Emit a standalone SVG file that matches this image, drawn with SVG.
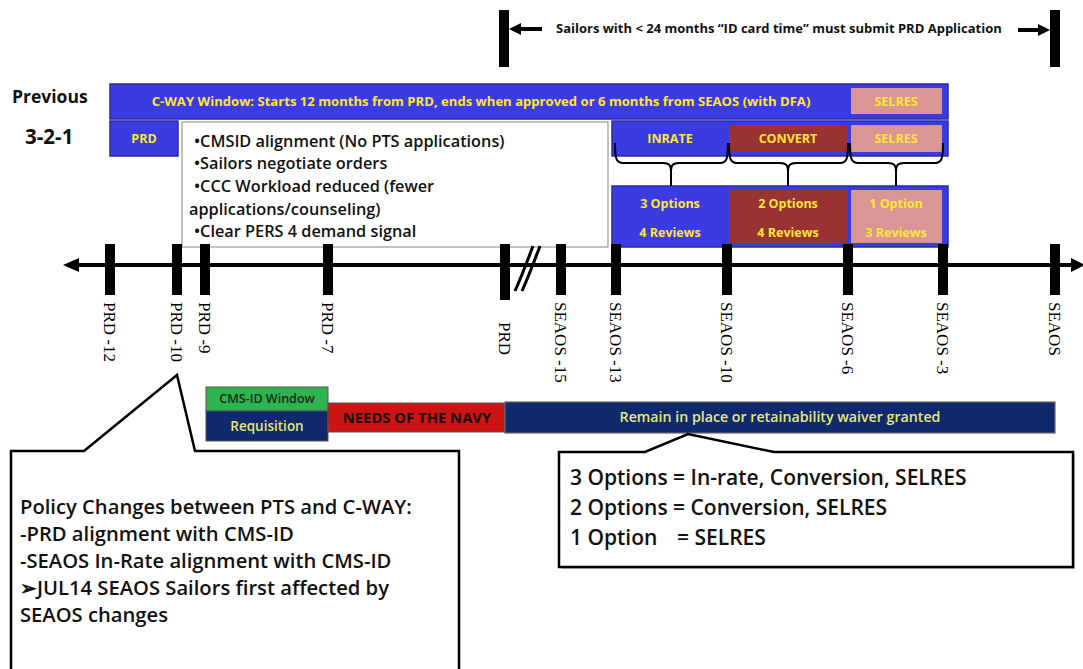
<svg xmlns="http://www.w3.org/2000/svg" width="1083" height="669" viewBox="0 0 1083 669">
<style>
.sans{font-family:"Open Sans","Liberation Sans",sans-serif}
.lbl{font-family:"Open Sans","Liberation Sans",sans-serif;font-weight:700;font-size:12.5px;fill:#ffe633;text-anchor:middle}
.tick{fill:#000}
.tl{font-family:"Liberation Serif","Times New Roman",serif;font-size:17px;fill:#000}
.blue{fill:#3b3be2;stroke:#2a2aa6;stroke-width:1.5}
.red{fill:#993333}
.pink{fill:#d99694}
.brace{fill:none;stroke:#000;stroke-width:2}
.body{font-family:"Open Sans","Liberation Sans",sans-serif;font-weight:600;fill:#111}
</style>
<rect width="1083" height="669" fill="#fff"/>

<g id="header">
  <rect x="499" y="10" width="10" height="57" fill="#000"/>
  <line x1="518" y1="29" x2="542" y2="29" stroke="#000" stroke-width="4"/>
  <polygon points="509,29 521,23 521,35" fill="#000"/>
  <text x="556" y="33" class="sans" font-size="13" font-weight="700" fill="#111">Sailors with &lt; 24 months “ID card time” must submit PRD Application</text>
  <line x1="1018" y1="30" x2="1040" y2="30" stroke="#000" stroke-width="4"/>
  <polygon points="1050,30 1038,24 1038,36" fill="#000"/>
  <rect x="1050" y="10" width="10" height="57" fill="#000"/>
</g>

<g id="row-labels">
  <text x="12" y="103" class="sans" font-size="17.5" font-weight="700" fill="#111">Previous</text>
  <text x="25" y="144" class="sans" font-size="20.5" font-weight="700" fill="#111">3-2-1</text>
</g>

<g id="cway-window">
  <rect x="110" y="84" width="838" height="35" class="blue"/>
  <text x="481" y="106" class="lbl" style="font-size:13.1px">C-WAY Window: Starts 12 months from PRD, ends when approved or 6 months from SEAOS (with DFA)</text>
  <rect x="851" y="88" width="91" height="26" class="pink"/>
  <text x="896" y="106" class="lbl">SELRES</text>
</g>

<g id="prd-box">
  <rect x="110" y="121" width="68" height="35" class="blue"/>
  <text x="144" y="143" class="lbl">PRD</text>
</g>

<g id="notes-box">
  <rect x="182" y="122" width="426" height="125" fill="#fff" stroke="#999" stroke-width="1.2"/>
  <text class="body" font-size="16.3">
    <tspan x="194" y="147">•CMSID alignment (No PTS applications)</tspan>
    <tspan x="194" y="169">•Sailors negotiate orders</tspan>
    <tspan x="194" y="192">•CCC Workload reduced (fewer</tspan>
    <tspan x="189" y="215">applications/counseling)</tspan>
    <tspan x="194" y="237">•Clear PERS 4 demand signal</tspan>
  </text>
</g>

<g id="category-row">
  <rect x="612" y="121" width="336" height="35" class="blue"/>
  <rect x="729" y="125" width="118" height="27" class="red"/>
  <rect x="851" y="125" width="91" height="27" class="pink"/>
  <text x="670" y="143" class="lbl">INRATE</text>
  <text x="788" y="143" class="lbl">CONVERT</text>
  <text x="896" y="143" class="lbl">SELRES</text>
</g>

<g id="options-row">
  <rect x="612" y="186" width="336" height="61" class="blue"/>
  <rect x="729" y="190" width="118" height="53" class="red"/>
  <rect x="851" y="190" width="91" height="53" class="pink"/>
  <text x="670" y="208" class="lbl">3 Options</text>
  <text x="670" y="237" class="lbl">4 Reviews</text>
  <text x="788" y="208" class="lbl">2 Options</text>
  <text x="788" y="237" class="lbl">4 Reviews</text>
  <text x="896" y="208" class="lbl">1 Option</text>
  <text x="896" y="237" class="lbl">3 Reviews</text>
</g>

<g id="connectors">
  <path class="brace" d="M615,143 C615,158 616,163 623,163 L663,163 C669,163 671,165 671,172 L671,186 M671,172 C671,165 673,163 679,163 L720,163 C727,163 728,158 728,143"/>
  <path class="brace" d="M729,143 C729,158 730,163 737,163 L780,163 C786,163 788,165 788,172 L788,186 M788,172 C788,165 790,163 796,163 L840,163 C847,163 848,158 848,143"/>
  <path class="brace" d="M850,143 C850,158 851,163 858,163 L888,163 C894,163 896,165 896,172 L896,186 M896,172 C896,165 898,163 904,163 L935,163 C942,163 943,158 943,143"/>
</g>

<g id="timeline">
  <line x1="74" y1="265" x2="1074" y2="265" stroke="#000" stroke-width="4"/>
  <polygon points="63,265 79,258 79,272" fill="#000"/>
  <polygon points="1085,265 1071,258 1071,272" fill="#000"/>
  <rect x="105" y="244" width="10" height="51" class="tick"/>
  <rect x="172" y="244" width="10" height="51" class="tick"/>
  <rect x="200" y="244" width="10" height="51" class="tick"/>
  <rect x="323" y="244" width="10" height="51" class="tick"/>
  <rect x="500" y="244" width="10" height="56" class="tick"/>
  <rect x="556" y="244" width="10" height="51" class="tick"/>
  <rect x="611" y="244" width="10" height="51" class="tick"/>
  <rect x="722" y="244" width="10" height="51" class="tick"/>
  <rect x="843" y="244" width="10" height="51" class="tick"/>
  <rect x="938" y="244" width="10" height="51" class="tick"/>
  <rect x="1050" y="244" width="10" height="51" class="tick"/>
  <path d="M515,291 C520,280 527,262 533,246 M522,291 C527,280 534,262 540,246" fill="none" stroke="#000" stroke-width="3"/>
  <text class="tl" transform="translate(104,302) rotate(90)">PRD -12</text>
  <text class="tl" transform="translate(171,302) rotate(90)">PRD -10</text>
  <text class="tl" transform="translate(199,302) rotate(90)">PRD -9</text>
  <text class="tl" transform="translate(322,302) rotate(90)">PRD -7</text>
  <text class="tl" transform="translate(499,322) rotate(90)">PRD</text>
  <text class="tl" transform="translate(555,302) rotate(90)">SEAOS -15</text>
  <text class="tl" transform="translate(610,302) rotate(90)">SEAOS -13</text>
  <text class="tl" transform="translate(721,302) rotate(90)">SEAOS -10</text>
  <text class="tl" transform="translate(842,302) rotate(90)">SEAOS -6</text>
  <text class="tl" transform="translate(937,302) rotate(90)">SEAOS -3</text>
  <text class="tl" transform="translate(1049,302) rotate(90)">SEAOS</text>
</g>

<g id="cmsid-window">
  <rect x="206" y="387" width="122" height="24" fill="#2fb351" stroke="#555" stroke-width="1"/>
  <text x="267" y="403" class="sans" font-size="12.5" font-weight="600" fill="#1a2a1a" text-anchor="middle">CMS-ID Window</text>
</g>
<g id="requisition">
  <rect x="206" y="411" width="122" height="30" fill="#10286c" stroke="#555" stroke-width="1"/>
  <text x="267" y="431" class="sans" font-size="13.5" font-weight="600" fill="#e4e47a" text-anchor="middle">Requisition</text>
</g>
<g id="needs-of-navy">
  <rect x="328" y="403" width="177" height="29" fill="#cc1414" stroke="#555" stroke-width="1"/>
  <text x="417" y="423" class="sans" font-size="14.8" font-weight="700" fill="#1a0a0a" text-anchor="middle">NEEDS OF THE NAVY</text>
</g>
<g id="remain-in-place">
  <rect x="505" y="402" width="550" height="31" fill="#10286c" stroke="#666" stroke-width="1.2"/>
  <text x="780" y="422" class="sans" font-size="14.2" font-weight="600" fill="#e8e87a" text-anchor="middle">Remain in place or retainability waiver granted</text>
</g>

<g id="policy-callout">
  <path d="M11,451 L84,451 L177,375 L195,451 L459,451 L459,675 L11,675 Z" fill="#fff" stroke="#000" stroke-width="2.5" stroke-linejoin="miter"/>
  <text class="body" font-size="20.2">
    <tspan x="20" y="514">Policy Changes between PTS and C-WAY:</tspan>
    <tspan x="20" y="541">-PRD alignment with CMS-ID</tspan>
    <tspan x="20" y="568">-SEAOS In-Rate alignment with CMS-ID</tspan>
    <tspan x="20" y="595">➢JUL14 SEAOS Sailors first affected by</tspan>
    <tspan x="20" y="622">SEAOS changes</tspan>
  </text>
</g>

<g id="options-callout">
  <path d="M561,454 L647,454 L690,436 L776,454 L1075,454 L1075,569 L561,569 Z" fill="#bbb" stroke="none"/>
  <path d="M559,452 L645,452 L688,434 L774,452 L1073,452 L1073,567 L559,567 Z" fill="#fff" stroke="#000" stroke-width="2.5"/>
  <text class="body" font-size="21">
    <tspan x="570" y="485">3 Options = In-rate, Conversion, SELRES</tspan>
    <tspan x="570" y="515">2 Options = Conversion, SELRES</tspan>
    <tspan x="570" y="545">1 Option</tspan><tspan x="677" y="545">= SELRES</tspan>
  </text>
</g>
</svg>
